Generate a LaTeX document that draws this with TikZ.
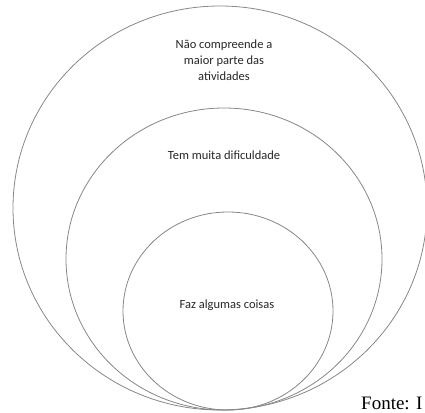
\documentclass[tikz,border=0pt]{standalone}
\usepackage{fontspec}
\setmainfont{Liberation Serif}
\newfontfamily\labelfont{Carlito}
\usetikzlibrary{shapes.geometric}
\pgfdeclarelayer{edgelayer}
\pgfdeclarelayer{nodelayer}
\pgfsetlayers{edgelayer,nodelayer,main}
\definecolor{ringgray}{RGB}{135,135,135}
\tikzstyle{ring}=[draw=ringgray,line width=0.8pt]
\tikzstyle{label}=[align=center,inner sep=0pt,font=\labelfont\fontsize{12.5}{16}\selectfont,text=black!85]

\begin{document}
\begin{tikzpicture}[x=1pt,y=-1pt]
	\useasboundingbox (0,0) rectangle (425,412);
	\begin{pgfonlayer}{nodelayer}
		\node [style=label] (0) at (224, 60) {Não compreende a\\maior parte das\\atividades};
		\node [style=label] (1) at (224, 155) {Tem muita dificuldade};
		\node [style=label] (2) at (227, 305) {Faz algumas coisas};
		\node [anchor=base west,inner sep=0pt,text depth=0pt,font=\fontsize{19}{22}\selectfont] (3) at (361, 409) {Fonte: I};
	\end{pgfonlayer}
	\begin{pgfonlayer}{edgelayer}
		\draw [style=ring] (220, 208) ellipse [x radius=207, y radius=202];
		\draw [style=ring] (224, 259) ellipse [x radius=158, y radius=151];
		\draw [style=ring] (228, 311) ellipse [x radius=105, y radius=99];
	\end{pgfonlayer}
\end{tikzpicture}
\end{document}
